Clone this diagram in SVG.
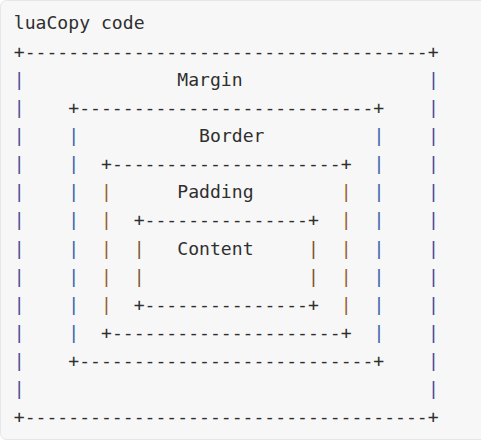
<svg xmlns="http://www.w3.org/2000/svg" width="481" height="442" viewBox="0 0 481 442">
  <style>
    .mono { font-family: "DejaVu Sans Mono", "Liberation Mono", monospace; font-size: 18.1px; fill: #2f2f2f; white-space: pre; }
    .p-margin { fill: #4a4c98; }
    .p-border { fill: #3a66a8; }
    .p-padding { fill: #985e2e; }
    .p-content { fill: #7a5532; }
  </style>
  <rect x="0.5" y="0.5" width="490" height="439" rx="6" fill="#f7f7f7" stroke="#e6e6e6" stroke-width="1"/>
  <g transform="translate(1.3,0)">
    <g id="header">
      <text class="mono" x="12.5" y="29">luaCopy code</text>
    </g>
    <g id="margin-box">
      <text class="mono" x="12.5" y="58">+-------------------------------------+</text>
      <text class="mono" x="12.5" y="423.04">+-------------------------------------+</text>
      <text class="mono p-margin" x="12.5 12.5 12.5 12.5 12.5 12.5 12.5 12.5 12.5 12.5 12.5 12.5" y="86.08 114.16 142.24 170.32 198.4 226.48 254.56 282.64 310.72 338.8 366.88 394.96">||||||||||||</text>
      <text class="mono p-margin" x="426.7 426.7 426.7 426.7 426.7 426.7 426.7 426.7 426.7 426.7 426.7 426.7" y="86.08 114.16 142.24 170.32 198.4 226.48 254.56 282.64 310.72 338.8 366.88 394.96">||||||||||||</text>
      <text class="mono" x="176" y="86.08">Margin</text>
    </g>
    <g id="border-box">
      <text class="mono" x="67" y="114.16">+---------------------------+</text>
      <text class="mono" x="67" y="366.88">+---------------------------+</text>
      <text class="mono p-border" x="67 67 67 67 67 67 67 67" y="142.24 170.32 198.4 226.48 254.56 282.64 310.72 338.8">||||||||</text>
      <text class="mono p-border" x="372.2 372.2 372.2 372.2 372.2 372.2 372.2 372.2" y="142.24 170.32 198.4 226.48 254.56 282.64 310.72 338.8">||||||||</text>
      <text class="mono" x="197.8" y="142.24">Border</text>
    </g>
    <g id="padding-box">
      <text class="mono" x="99.7" y="170.32">+---------------------+</text>
      <text class="mono" x="99.7" y="338.8">+---------------------+</text>
      <text class="mono p-padding" x="99.7 99.7 99.7 99.7 99.7" y="198.4 226.48 254.56 282.64 310.72">|||||</text>
      <text class="mono p-padding" x="339.5 339.5 339.5 339.5 339.5" y="198.4 226.48 254.56 282.64 310.72">|||||</text>
      <text class="mono" x="176" y="198.4">Padding</text>
    </g>
    <g id="content-box">
      <text class="mono" x="132.4" y="226.48">+---------------+</text>
      <text class="mono" x="132.4" y="310.72">+---------------+</text>
      <text class="mono p-content" x="132.4 132.4" y="254.56 282.64">||</text>
      <text class="mono p-content" x="306.8 306.8" y="254.56 282.64">||</text>
      <text class="mono" x="176" y="254.56">Content</text>
    </g>
  </g>
</svg>
